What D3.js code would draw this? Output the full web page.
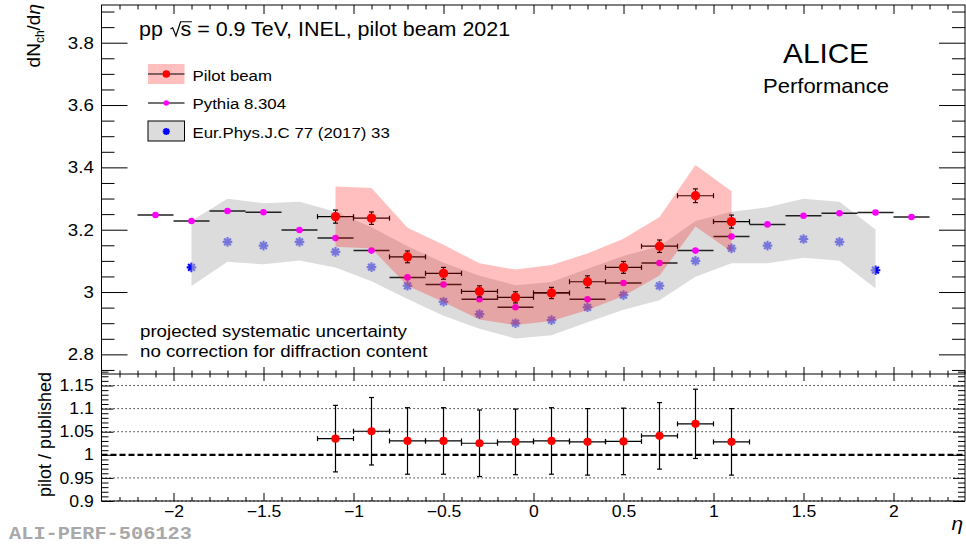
<!DOCTYPE html>
<html><head><meta charset="utf-8">
<script src="https://cdn.jsdelivr.net/npm/d3@7"></script>
<style>
body{margin:0;background:#fff}
svg{display:block}
text{font-family:"Liberation Sans",Arial,Helvetica,sans-serif;fill:#000}
</style>
</head><body>
<svg id="c" width="966" height="547"></svg>
<script>
// ---------------- data ----------------
const etaPilot = [-1.1,-0.9,-0.7,-0.5,-0.3,-0.1,0.1,0.3,0.5,0.7,0.9,1.1];
const pilotValue = [3.242,3.237,3.113,3.060,3.002,2.983,2.997,3.033,3.079,3.147,3.309,3.226];
const pilotStat  = [0.021,0.020,0.019,0.019,0.018,0.018,0.018,0.019,0.019,0.020,0.022,0.021];
const pilotSyst  = [0.097,0.097,0.093,0.092,0.090,0.089,0.090,0.091,0.092,0.094,0.099,0.097];

const etaPythia = [-2.1,-1.9,-1.7,-1.5,-1.3,-1.1,-0.9,-0.7,-0.5,-0.3,-0.1,0.1,0.3,0.5,0.7,0.9,1.1,1.3,1.5,1.7,1.9,2.1];
const pythiaValue = [3.247,3.228,3.260,3.256,3.199,3.173,3.133,3.047,3.024,2.977,2.951,2.998,2.977,3.029,3.093,3.133,3.178,3.217,3.245,3.253,3.255,3.241];
const pythiaErr = [0.008,0.008,0.008,0.008,0.008,0.008,0.008,0.008,0.008,0.008,0.008,0.008,0.008,0.008,0.008,0.008,0.008,0.008,0.008,0.008,0.008,0.008];

const etaPub = [-1.9,-1.7,-1.5,-1.3,-1.1,-0.9,-0.7,-0.5,-0.3,-0.1,0.1,0.3,0.5,0.7,0.9,1.1,1.3,1.5,1.7,1.9];
const pubValue   = [3.079,3.161,3.149,3.161,3.129,3.080,3.020,2.969,2.929,2.900,2.910,2.951,2.990,3.020,3.100,3.140,3.149,3.170,3.161,3.070];
const pubErrHigh = [0.150,0.138,0.136,0.129,0.129,0.128,0.127,0.125,0.123,0.122,0.122,0.124,0.126,0.127,0.128,0.118,0.123,0.129,0.129,0.131];
const pubErrLow  = [0.060,0.064,0.060,0.060,0.050,0.045,0.042,0.045,0.047,0.049,0.049,0.048,0.047,0.046,0.051,0.048,0.057,0.060,0.061,0.058];

const etaRatio = [-1.1,-0.9,-0.7,-0.5,-0.3,-0.1,0.1,0.3,0.5,0.7,0.9,1.1];
const ratioValue = [1.035,1.051,1.030,1.030,1.025,1.028,1.030,1.028,1.029,1.041,1.067,1.028];
const ratioErr   = [0.072,0.073,0.072,0.072,0.072,0.071,0.072,0.072,0.072,0.072,0.075,0.072];
const etaHalfBin = 0.1;

const xTickValues = [-2,-1.5,-1,-0.5,0,0.5,1,1.5,2];
const xTickLabels = ["\u22122","\u22121.5","\u22121","\u22120.5","0","0.5","1","1.5","2"];
const yTopTickValues = [2.8,3,3.2,3.4,3.6,3.8];
const yTopTickLabels = ["2.8","3","3.2","3.4","3.6","3.8"];
const yBotTickValues = [0.9,0.95,1,1.05,1.1,1.15];
const yBotTickLabels = ["0.9","0.95","1","1.05","1.1","1.15"];
const legendLabels = ["Pilot beam","Pythia 8.304","Eur.Phys.J.C 77 (2017) 33"];

// ---------------- layout ----------------
const svg = d3.select("#c");
const SX = 1.1;
const L = 101.5, R = 965, T = 5, MID = 374, BT = 371, B = 501;
const x = d3.scaleLinear().domain([-2.4,2.4]).range([L,965.5]);
const yT = d3.scaleLinear().domain([2.737,3.921]).range([MID,T]);
const yB = d3.scaleLinear().domain([0.9,1.1814]).range([B,BT]);

function txt(g, px, py, str, size, anchor){
  return g.append("text")
    .attr("transform",`translate(${px},${py}) scale(${SX},1)`)
    .attr("font-size",size).attr("text-anchor",anchor||"start").text(str);
}
function axis(gen, pos, values, size, labels, pad, fs){
  const g = svg.append("g").attr("transform",pos);
  const a = gen.tickValues(values).tickSize(size).tickSizeOuter(0).tickPadding(pad||0)
    .tickFormat(labels ? (d,i)=>labels[i] : ()=> "");
  g.call(a);
  g.attr("font-family",null).attr("font-size",null);
  g.select(".domain").remove();
  g.selectAll("line").attr("stroke","#000").attr("stroke-width",1);
  if(labels){ g.selectAll("text").attr("font-size",fs).attr("transform",`scale(${SX},1)`); }
  return g;
}
const notIn = (arr)=> v => !arr.some(m=>Math.abs(m-v)<1e-6);
const xMinor = d3.range(-23,24).map(v=>v/10).filter(notIn(xTickValues));
const yTopMinor = d3.range(55,79).map(v=>v/20).filter(notIn(yTopTickValues));
const yBotMinor = d3.range(90,119).map(v=>v/100).filter(notIn(yBotTickValues));

// ---------------- top panel marks ----------------
const star = (r)=>{const a=r*0.7071;return `M${-r},0L${r},0M0,${-r}L0,${r}M${-a},${-a}L${a},${a}M${-a},${a}L${a},${-a}`;};
const gTop = svg.append("g");
gTop.selectAll(".pub").data(d3.range(etaPub.length)).join("path")
  .attr("d",star(4.8)).attr("transform",i=>`translate(${x(etaPub[i])},${yT(pubValue[i])})`)
  .attr("stroke","#0000ff").attr("stroke-width",2.1).attr("fill","none");
gTop.append("path").datum(d3.range(etaPub.length))
  .attr("d",d3.area().x(i=>x(etaPub[i])).y0(i=>yT(pubValue[i]-pubErrLow[i])).y1(i=>yT(pubValue[i]+pubErrHigh[i])))
  .attr("fill","#c4c4c4").attr("fill-opacity",0.6);
const gPy = gTop.append("g").attr("stroke","#202020").attr("stroke-width",1.5);
d3.range(etaPythia.length).forEach(i=>{
  const cx=x(etaPythia[i]), cy=yT(pythiaValue[i]);
  gPy.append("line").attr("x1",x(etaPythia[i]-etaHalfBin)).attr("x2",x(etaPythia[i]+etaHalfBin)).attr("y1",cy).attr("y2",cy);
  gPy.append("line").attr("x1",cx).attr("x2",cx).attr("y1",yT(pythiaValue[i]-pythiaErr[i])).attr("y2",yT(pythiaValue[i]+pythiaErr[i])).attr("stroke-width",1.2);
});
gTop.selectAll(".py").data(d3.range(etaPythia.length)).join("circle")
  .attr("cx",i=>x(etaPythia[i])).attr("cy",i=>yT(pythiaValue[i])).attr("r",3.3).attr("fill","#ff00ff");

function errPoints(g, etas, vals, errs, ys, r){
  const ge = g.append("g").attr("stroke","#000").attr("stroke-width",1.2);
  d3.range(etas.length).forEach(i=>{
    const cx=x(etas[i]), cy=ys(vals[i]);
    const x1=x(etas[i]-etaHalfBin), x2=x(etas[i]+etaHalfBin);
    const y1=ys(vals[i]-errs[i]), y2=ys(vals[i]+errs[i]);
    ge.append("line").attr("x1",x1).attr("x2",x2).attr("y1",cy).attr("y2",cy);
    ge.append("line").attr("x1",x1).attr("x2",x1).attr("y1",cy-2.5).attr("y2",cy+2.5);
    ge.append("line").attr("x1",x2).attr("x2",x2).attr("y1",cy-2.5).attr("y2",cy+2.5);
    ge.append("line").attr("x1",cx).attr("x2",cx).attr("y1",y1).attr("y2",y2);
    ge.append("line").attr("x1",cx-2.5).attr("x2",cx+2.5).attr("y1",y1).attr("y2",y1);
    ge.append("line").attr("x1",cx-2.5).attr("x2",cx+2.5).attr("y1",y2).attr("y2",y2);
  });
  g.selectAll(null).data(d3.range(etas.length)).join("circle")
    .attr("cx",i=>x(etas[i])).attr("cy",i=>ys(vals[i])).attr("r",r).attr("fill","#ff0000");
}
errPoints(gTop, etaPilot, pilotValue, pilotStat, yT, 4.7);
gTop.append("path").datum(d3.range(etaPilot.length))
  .attr("d",d3.area().x(i=>x(etaPilot[i])).y0(i=>yT(pilotValue[i]-pilotSyst[i])).y1(i=>yT(pilotValue[i]+pilotSyst[i])))
  .attr("fill","#ff0000").attr("fill-opacity",0.25);

// ---------------- bottom panel marks ----------------
const gBot = svg.append("g");
yBotTickValues.filter(v=>v!==1).forEach(v=>{
  gBot.append("line").attr("x1",L).attr("x2",R).attr("y1",yB(v)).attr("y2",yB(v))
    .attr("stroke","#000").attr("stroke-width",1).attr("stroke-dasharray","1.2,2.8");
});
gBot.append("line").attr("x1",L).attr("x2",R).attr("y1",yB(1)).attr("y2",yB(1))
  .attr("stroke","#000").attr("stroke-width",2.2).attr("stroke-dasharray","6,3");
errPoints(gBot, etaRatio, ratioValue, ratioErr, yB, 4.1);

// ---------------- axes & frames ----------------
svg.append("rect").attr("x",L).attr("y",T).attr("width",R-L).attr("height",MID-T).attr("fill","none").attr("stroke","#000");
svg.append("path").attr("d",`M${L},${BT}V${B}H${R}V${BT}`).attr("fill","none").attr("stroke","#000");
axis(d3.axisLeft(yT), `translate(${L},0)`, yTopTickValues, -26, yTopTickLabels, 7, 17);
axis(d3.axisLeft(yT), `translate(${L},0)`, yTopMinor, -13);
axis(d3.axisRight(yT), `translate(${R},0)`, yTopTickValues, -26);
axis(d3.axisRight(yT), `translate(${R},0)`, yTopMinor, -13);
axis(d3.axisTop(x), `translate(0,${T})`, xTickValues, -9);
axis(d3.axisTop(x), `translate(0,${T})`, xMinor, -4.5);
axis(d3.axisBottom(x), `translate(0,${MID})`, xTickValues, -7);
axis(d3.axisBottom(x), `translate(0,${MID})`, xMinor, -3.5);
axis(d3.axisLeft(yB), `translate(${L},0)`, yBotTickValues, -12, yBotTickLabels, 7, 16);
axis(d3.axisLeft(yB), `translate(${L},0)`, yBotMinor, -7);
axis(d3.axisRight(yB), `translate(${R},0)`, yBotTickValues, -12);
axis(d3.axisRight(yB), `translate(${R},0)`, yBotMinor, -7);
axis(d3.axisTop(x), `translate(0,${MID})`, xTickValues, -7);
axis(d3.axisTop(x), `translate(0,${MID})`, xMinor, -3.5);
axis(d3.axisBottom(x), `translate(0,${B})`, xTickValues, -8, xTickLabels, 5, 16);
axis(d3.axisBottom(x), `translate(0,${B})`, xMinor, -4);

// ---------------- texts ----------------
const hg = svg.append("g").attr("transform",`translate(139,36) scale(${SX},1)`);
const ht = hg.append("text").attr("font-size",19.5);
ht.append("tspan").text("pp ");
ht.append("tspan").attr("fill-opacity",0).style("fill-opacity",0).text("\u221A");
ht.append("tspan").text("s");
ht.append("tspan").text(" = 0.9 TeV, INEL, pilot beam 2021");
try{
  const e1 = ht.node().getExtentOfChar(3), e2 = ht.node().getExtentOfChar(4);
  const x0 = e1.x + 1.5, top = -14.2, sx1 = e2.x + e2.width + 0.5;
  hg.append("path").attr("d",`M${x0},-7L${x0+2},-8.2L${x0+5},0L${e2.x},${top}L${sx1},${top}`)
    .attr("fill","none").attr("stroke","#000").attr("stroke-width",1.1).attr("stroke-linejoin","miter");
}catch(err){}

txt(svg, 826, 63, "ALICE", 27, "middle");
txt(svg, 826, 93, "Performance", 20, "middle");

// legend
svg.append("rect").attr("x",148).attr("y",64).attr("width",36.5).attr("height",20).attr("fill","#ff0000").attr("fill-opacity",0.25);
svg.append("line").attr("x1",148).attr("x2",184.5).attr("y1",74).attr("y2",74).attr("stroke","#000").attr("stroke-width",1.2);
svg.append("circle").attr("cx",166.3).attr("cy",74).attr("r",3.8).attr("fill","#ff0000");
svg.append("line").attr("x1",148).attr("x2",184.5).attr("y1",103).attr("y2",103).attr("stroke","#444").attr("stroke-width",1.5);
svg.append("circle").attr("cx",166.3).attr("cy",103).attr("r",2.7).attr("fill","#ff00ff");
svg.append("rect").attr("x",148).attr("y",121).attr("width",36.5).attr("height",20).attr("fill","#dcdcdc").attr("stroke","#000").attr("stroke-width",1);
svg.append("path").attr("d",star(3.6)).attr("transform","translate(166.3,131.5)").attr("stroke","#0000ff").attr("stroke-width",2).attr("fill","none");
txt(svg, 192.5, 80.5, legendLabels[0], 15.3);
txt(svg, 192.5, 109, legendLabels[1], 15.3);
txt(svg, 192.5, 137.5, legendLabels[2], 15.3);

txt(svg, 140, 337, "projected systematic uncertainty", 17);
txt(svg, 140, 357, "no correction for diffraction content", 17);

const yt = svg.append("text").attr("transform","translate(39.5,4) rotate(-90)").attr("text-anchor","end").attr("font-size",19);
yt.append("tspan").text("dN");
yt.append("tspan").attr("font-size",12).attr("dy",4).text("ch");
yt.append("tspan").attr("dy",-4).text("/d");
yt.append("tspan").attr("font-style","italic").text("\u03B7");
svg.append("text").attr("transform","translate(51,434.5) rotate(-90)").attr("text-anchor","middle").attr("font-size",18).text("pilot / published");
txt(svg, 963, 530, "\u03B7", 19, "end").attr("font-style","italic");

svg.append("text").attr("x",9).attr("y",539)
  .style("font-family","'Liberation Mono','Courier New',monospace").style("fill","#a8a8a8")
  .attr("font-weight","bold").attr("font-size",19).attr("textLength",183).attr("lengthAdjust","spacingAndGlyphs")
  .text("ALI-PERF-506123");
</script>
</body></html>
